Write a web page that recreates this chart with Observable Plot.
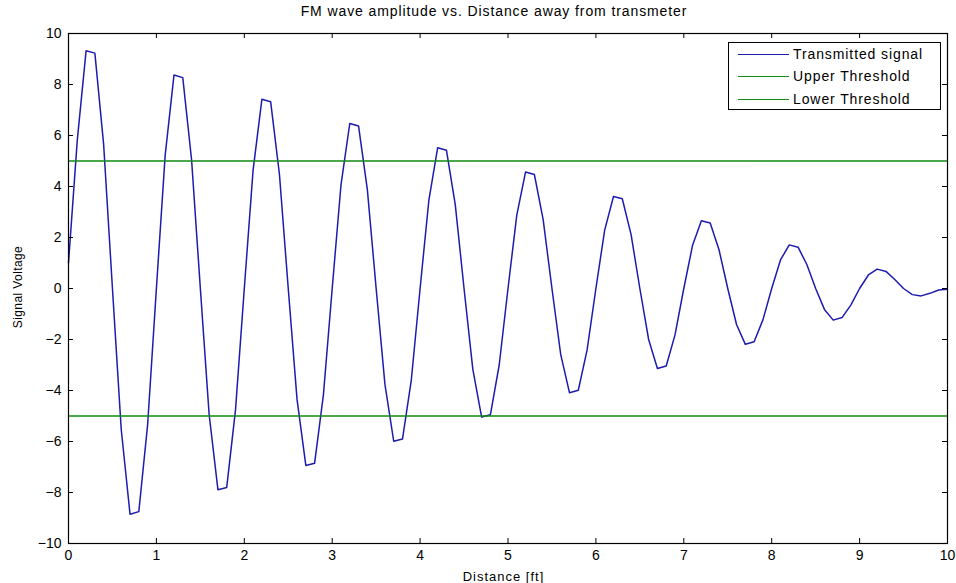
<!DOCTYPE html>
<html><head><meta charset="utf-8">
<script src="https://cdn.jsdelivr.net/npm/d3@7"></script>
<script src="https://cdn.jsdelivr.net/npm/@observablehq/plot@0.6"></script>
<style>
body{margin:0;background:#fff;}
#wrap{position:relative;width:956px;height:583px;overflow:hidden;font-family:"Liberation Sans",Arial,sans-serif;color:#000;}
#chart{position:absolute;left:0;top:0;}
.title{position:absolute;left:0;width:988px;top:3px;text-align:center;font-size:14px;letter-spacing:0.9px;white-space:nowrap;}
.xlabel{position:absolute;left:0;width:1007px;top:569px;text-align:center;font-size:13px;letter-spacing:1px;white-space:nowrap;}
.ylabel{position:absolute;left:18px;top:287px;transform:translate(-50%,-50%) rotate(-90deg);font-size:12px;letter-spacing:0.4px;white-space:nowrap;}
.legend{position:absolute;left:728px;top:42px;width:213px;height:68px;border:1px solid #000;background:#fff;box-sizing:border-box;}
.row{position:absolute;left:0;height:20px;display:flex;align-items:center;}
.sw{width:51px;height:0;border-top:1.4px solid;margin-left:9px;margin-right:4px;}
.lt{font-size:14px;letter-spacing:0.9px;white-space:nowrap;}
</style>
</head><body>
<div id="wrap">
  <div id="chart"></div>
  <div class="title">FM wave amplitude vs. Distance away from transmeter</div>
  <div class="xlabel">Distance [ft]</div>
  <div class="ylabel">Signal Voltage</div>
  <div class="legend" id="legend"></div>
</div>
<script>
// Distance [ft]
const distance = [0,0.1,0.2,0.3,0.4,0.5,0.6,0.7,0.8,0.9,1,1.1,1.2,1.3,1.4,1.5,1.6,1.7,1.8,1.9,2,2.1,2.2,2.3,2.4,2.5,2.6,2.7,2.8,2.9,3,3.1,3.2,3.3,3.4,3.5,3.6,3.7,3.8,3.9,4,4.1,4.2,4.3,4.4,4.5,4.6,4.7,4.8,4.9,5,5.1,5.2,5.3,5.4,5.5,5.6,5.7,5.8,5.9,6,6.1,6.2,6.3,6.4,6.5,6.6,6.7,6.8,6.9,7,7.1,7.2,7.3,7.4,7.5,7.6,7.7,7.8,7.9,8,8.1,8.2,8.3,8.4,8.5,8.6,8.7,8.8,8.9,9,9.1,9.2,9.3,9.4,9.5,9.6,9.7,9.8,9.9,10];
// Transmitted signal [V]
const signal = [1.0,5.82,9.32,9.23,5.64,0,-5.53,-8.85,-8.75,-5.35,
  0,5.23,8.37,8.27,5.06,0,-4.94,-7.89,-7.80,-4.76,
  0,4.64,7.42,7.32,4.47,0,-4.35,-6.94,-6.85,-4.17,
  0,4.06,6.47,6.37,3.88,0,-3.76,-5.99,-5.90,-3.59,
  0,3.47,5.52,5.42,3.29,0,-3.17,-5.04,-4.95,-3.00,
  0,2.88,4.57,4.47,2.70,0,-2.59,-4.09,-3.99,-2.41,
  0,2.29,3.61,3.52,2.12,0,-2.00,-3.14,-3.04,-1.82,
  0,1.70,2.66,2.57,1.53,0,-1.41,-2.19,-2.09,-1.23,
  0,1.12,1.71,1.62,0.94,0,-0.82,-1.24,-1.14,-0.65,
  0,0.53,0.76,0.67,0.35,0,-0.24,-0.29,-0.19,-0.06,
  -0.03];
const thresholdX = [0, 10];
const upperThreshold = 5;
const lowerThreshold = -5;
const xTicks = [0,1,2,3,4,5,6,7,8,9,10];
const yTicks = [-10,-8,-6,-4,-2,0,2,4,6,8,10];
const seriesNames = ["Transmitted signal", "Upper Threshold", "Lower Threshold"];
const seriesColors = ["#1c1cb0", "#108a10", "#108a10"];

const W = 956, H = 583, mL = 68, mR = 9, mT = 33, mB = 40;
const innerH = H - mT - mB, innerW = W - mL - mR, tk = 5;

const sig = distance.map((d, i) => ({x: d, y: signal[i]}));
const up = thresholdX.map(x => ({x, y: upperThreshold}));
const lo = thresholdX.map(x => ({x, y: lowerThreshold}));

const chart = Plot.plot({
  width: W, height: H,
  marginLeft: mL, marginRight: mR, marginTop: mT, marginBottom: mB,
  style: {fontFamily: '"Liberation Sans", Arial, sans-serif', fontSize: "14px", background: "#fff", color: "#000"},
  x: {domain: [0, 10]},
  y: {domain: [-10, 10]},
  marks: [
    Plot.line(sig, {x: "x", y: "y", stroke: seriesColors[0], strokeWidth: 1.5}),
    Plot.line(up, {x: "x", y: "y", stroke: seriesColors[1], strokeWidth: 1.4}),
    Plot.line(lo, {x: "x", y: "y", stroke: seriesColors[2], strokeWidth: 1.4}),
    Plot.ruleX(xTicks, {x: d => d, insetTop: innerH - tk, stroke: "#000"}),
    Plot.ruleX(xTicks, {x: d => d, insetBottom: innerH - tk, stroke: "#000"}),
    Plot.ruleY(yTicks, {y: d => d, insetRight: innerW - tk, stroke: "#000"}),
    Plot.ruleY(yTicks, {y: d => d, insetLeft: innerW - tk, stroke: "#000"}),
    Plot.frame({stroke: "#000", strokeWidth: 1.2}),
    Plot.axisX({ticks: xTicks, tickSize: 0, tickPadding: 7, label: null, fontSize: 14}),
    Plot.axisY({ticks: yTicks, tickSize: 0, tickPadding: 7, label: null, fontSize: 14})
  ]
});
document.getElementById("chart").appendChild(chart);

const leg = document.getElementById("legend");
const rowTops = [1, 23, 46];
seriesNames.forEach((n, i) => {
  const r = document.createElement("div");
  r.className = "row";
  r.style.top = rowTops[i] + "px";
  r.innerHTML = `<div class="sw" style="border-color:${seriesColors[i]}"></div><div class="lt">${n}</div>`;
  leg.appendChild(r);
});
</script>
</body></html>
